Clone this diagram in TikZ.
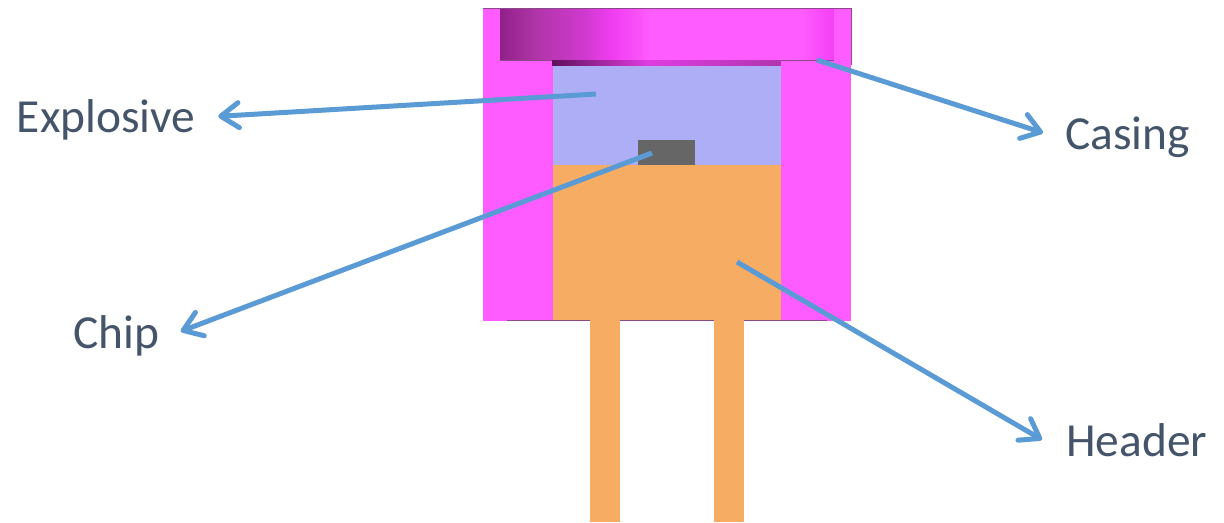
\documentclass[tikz,border=0pt]{standalone}
\usepackage{fontspec}
\setmainfont{Carlito}
\usetikzlibrary{arrows.meta,positioning}
\definecolor{ink}{HTML}{44546A}
\definecolor{accent}{HTML}{5B9BD5}
\definecolor{casingcol}{HTML}{FF5CFF}
\definecolor{fillcol}{HTML}{ADAEF5}
\definecolor{headercol}{HTML}{F6AD63}
\definecolor{chipcol}{HTML}{666666}
\definecolor{edge}{HTML}{8A4A8A}
\definecolor{capa}{HTML}{8F2088}
\definecolor{capb}{HTML}{B035A8}
\definecolor{capc}{HTML}{D03AD0}
\definecolor{capd}{HTML}{F03CF0}
\definecolor{cape}{HTML}{F540F5}
\definecolor{stripa}{HTML}{5E0F5A}
\definecolor{stripb}{HTML}{E03CE0}
\definecolor{stripc}{HTML}{B035B0}

\begin{document}
\begin{tikzpicture}[
  x=.02cm,y=-.02cm,
  lbl/.style={anchor=base west,inner sep=0pt,text=ink,font=\fontsize{27pt}{30pt}\selectfont},
  arrow/.style={draw=accent,line width=.1cm,
    -{Straight Barb[length=.36cm,width=.5cm,round,line width=.1cm]}}
]
\useasboundingbox (0,0) rectangle (1224,522);
% casing and cap
\fill[casingcol] (482.5,8) rectangle (851,321);
\draw[edge,line width=.02cm] (482.5,8) -- (851,8) -- (851,65);
\foreach \xa/\xb/\ca/\cb in {500/537/capa/capb,537/587/capb/capc,587/613/capc/capd,
    613/653/capd/casingcol,653/803/casingcol/casingcol,803/834/casingcol/cape}{
  \pgfmathsetmacro{\nsteps}{int((\xb-\xa)/2)}
  \foreach \k in {1,...,\nsteps}{
    \pgfmathsetmacro{\pct}{100*\k/\nsteps}
    \pgfmathsetmacro{\xl}{\xa+(\k-1)*(\xb-\xa)/\nsteps}
    \pgfmathsetmacro{\xr}{min(\xa+\k*(\xb-\xa)/\nsteps+.5,834)}
    \fill[\cb!\pct!\ca] (\xl,9) rectangle (\xr,60);
  }
}
\draw[edge,line width=.02cm] (500,60) -- (834,60);
\foreach \xa/\xb/\ca/\cb in {552/650/stripa/stripb,650/781/stripb/stripc}{
  \pgfmathsetmacro{\nsteps}{int((\xb-\xa)/2)}
  \foreach \k in {1,...,\nsteps}{
    \pgfmathsetmacro{\pct}{100*\k/\nsteps}
    \pgfmathsetmacro{\xl}{\xa+(\k-1)*(\xb-\xa)/\nsteps}
    \pgfmathsetmacro{\xr}{min(\xa+\k*(\xb-\xa)/\nsteps+.5,781)}
    \fill[\cb!\pct!\ca] (\xl,60) rectangle (\xr,66);
  }
}
% explosive, header, chip
\fill[fillcol] (552.5,66) rectangle (781,165);
\fill[headercol] (552.5,165) rectangle (781,320.5);
\fill[chipcol] (637.5,139.5) rectangle (695,165);
% pins
\fill[edge] (507,319.8) rectangle (827,321);
\fill[headercol] (590,318) rectangle (620,522);
\fill[headercol] (714,318) rectangle (744,522);
% labels
\node[lbl] (explosive) at (16.5,132) {Explosive};
\node[lbl] (casing) at (1065,149) {Casing};
\node[lbl] (chip) at (73,348.5) {Chip};
\node[lbl] (header) at (1066,456) {Header};
\coordinate (explosivein) at (596,94);
\coordinate (casingin) at (817,60);
\coordinate (chipin) at (652,153);
\coordinate (headerin) at (737,262);
% callouts
\draw[arrow] (explosivein) -- ([xshift=.45cm,yshift=.06cm]explosive.east);
\draw[arrow] (casingin) -- ([xshift=-.44cm,yshift=.08cm]casing.west);
\draw[arrow] (chipin) -- ([xshift=.42cm,yshift=.09cm]chip.east);
\draw[arrow] (headerin) -- ([xshift=-.48cm,yshift=0cm]header.west);
\end{tikzpicture}
\end{document}
